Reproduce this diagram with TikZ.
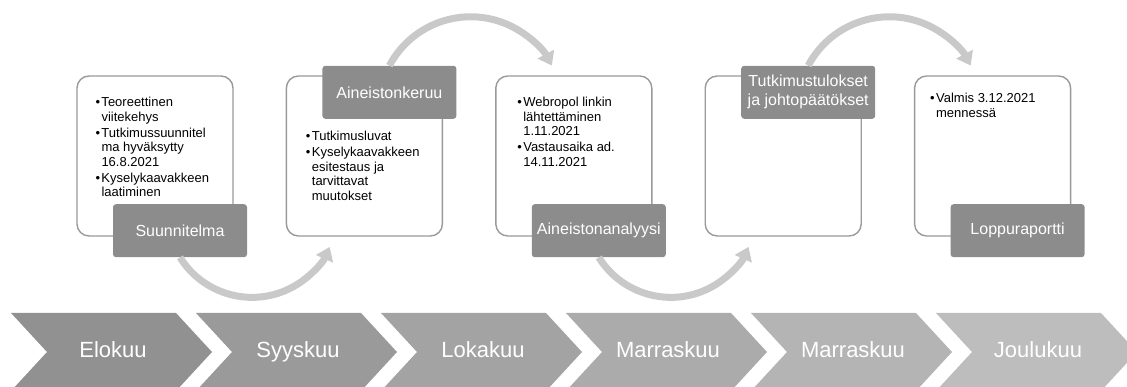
\documentclass[tikz,border=0pt]{standalone}
\usepackage{fontspec}
\setmainfont{Liberation Sans}
\usetikzlibrary{arrows.meta,positioning,scopes}
\definecolor{tagfill}{HTML}{8C8C8C}
\definecolor{boxline}{HTML}{9A9A9A}
\definecolor{flowgray}{HTML}{C9C9C9}
\tikzset{stage/.style={draw=boxline, line width=1.4pt, rounded corners=12pt,
		fill=white, minimum width=156pt, minimum height=160pt},
	tag/.style={fill=tagfill, rounded corners=3pt, text=white, align=center,
		minimum width=134pt, minimum height=53pt, inner sep=2pt,
		font=\fontsize{16}{19}\selectfont},
	notes/.style={anchor=north west, inner sep=0pt, align=left,
		font=\fontsize{13}{14.5}\selectfont},
	flow/.style={draw=flowgray, line width=7pt, -{Triangle[width=18pt,length=13pt]}},
	month/.style={text=white, text height=16pt, text depth=5pt,
		font=\fontsize{22}{26}\selectfont}}
\newcommand{\itm}{\makebox[6pt][l]{\textbullet}}
\newcommand{\cnt}{\hspace*{6pt}}

\begin{document}
\begin{tikzpicture}[x=1pt, y=1pt, node distance=52pt]
	\useasboundingbox (0,0) rectangle (1127,387);
	\clip (0,0) rectangle (1127,387);
	\foreach \n/\mname [count=\i from 0] in {a/Elokuu,b/Syyskuu,c/Lokakuu,
		d/Marraskuu,e/Marraskuu,f/Joulukuu}{
		\pgfmathsetmacro{\shade}{43-3.4*\i}
		\pgfmathsetmacro{\xo}{11+185*\i}
		\fill[black!\shade] (\xo,74) -- ++(165,0) -- ++(36,-39) -- ++(-36,-39)
			-- ++(-165,0) -- ++(36,39) -- cycle;
		\node[month] (m\n) at (\xo+102,35) {\mname};
	}
	\node[stage] (s1) at (155,231) {};
	\node[stage, right=of s1] (s2) {};
	\node[stage, right=of s2] (s3) {};
	\node[stage, right=of s3] (s4) {};
	\node[stage, right=of s4] (s5) {};
	\node[notes] (n1) at ([xshift=19pt,yshift=-22pt]s1.north west)
		{\itm Teoreettinen\\ \cnt viitekehys\\[1.5pt]
		 \itm Tutkimussuunnitel\\ \cnt ma hyväksytty\\ \cnt 16.8.2021\\[1.5pt]
		 \itm Kyselykaavakkeen\\ \cnt laatiminen};
	\node[notes] (n2) at ([xshift=20pt,yshift=-56pt]s2.north west)
		{\itm Tutkimusluvat\\[1.5pt]
		 \itm Kyselykaavakkeen\\ \cnt esitestaus ja\\ \cnt tarvittavat\\ \cnt muutokset};
	\node[notes] (n3) at ([xshift=22pt,yshift=-22pt]s3.north west)
		{\itm Webropol linkin\\ \cnt lähtettäminen\\ \cnt 1.11.2021\\[1.5pt]
		 \itm Vastausaika ad.\\ \cnt 14.11.2021};
	\node[notes] (n5) at ([xshift=16pt,yshift=-18pt]s5.north west)
		{\itm Valmis 3.12.2021\\ \cnt mennessä};
	\node[tag] (l1) at ([xshift=25pt,yshift=6pt]s1.south) {Suunnitelma};
	\node[tag] (l2) at ([xshift=25pt,yshift=-17pt]s2.north) {Aineistonkeruu};
	\node[tag] (l3) at ([xshift=25pt,yshift=6pt]s3.south) {Aineistonanalyysi};
	\node[tag] (l4) at ([xshift=25pt,yshift=-17pt]s4.north) {Tutkimustulokset\\ja johtopäätökset};
	\node[tag] (l5) at ([xshift=25pt,yshift=6pt]s5.south) {Loppuraportti};
	\draw[flow] (l1.south) arc[start angle=212, end angle=336, radius=85pt];
	\draw[flow] (l2.north) arc[start angle=152, end angle=28, radius=92pt];
	\draw[flow] (l3.south) arc[start angle=212, end angle=336, radius=85pt];
	\draw[flow] (l4.north) arc[start angle=152, end angle=28, radius=92pt];
\end{tikzpicture}
\end{document}
